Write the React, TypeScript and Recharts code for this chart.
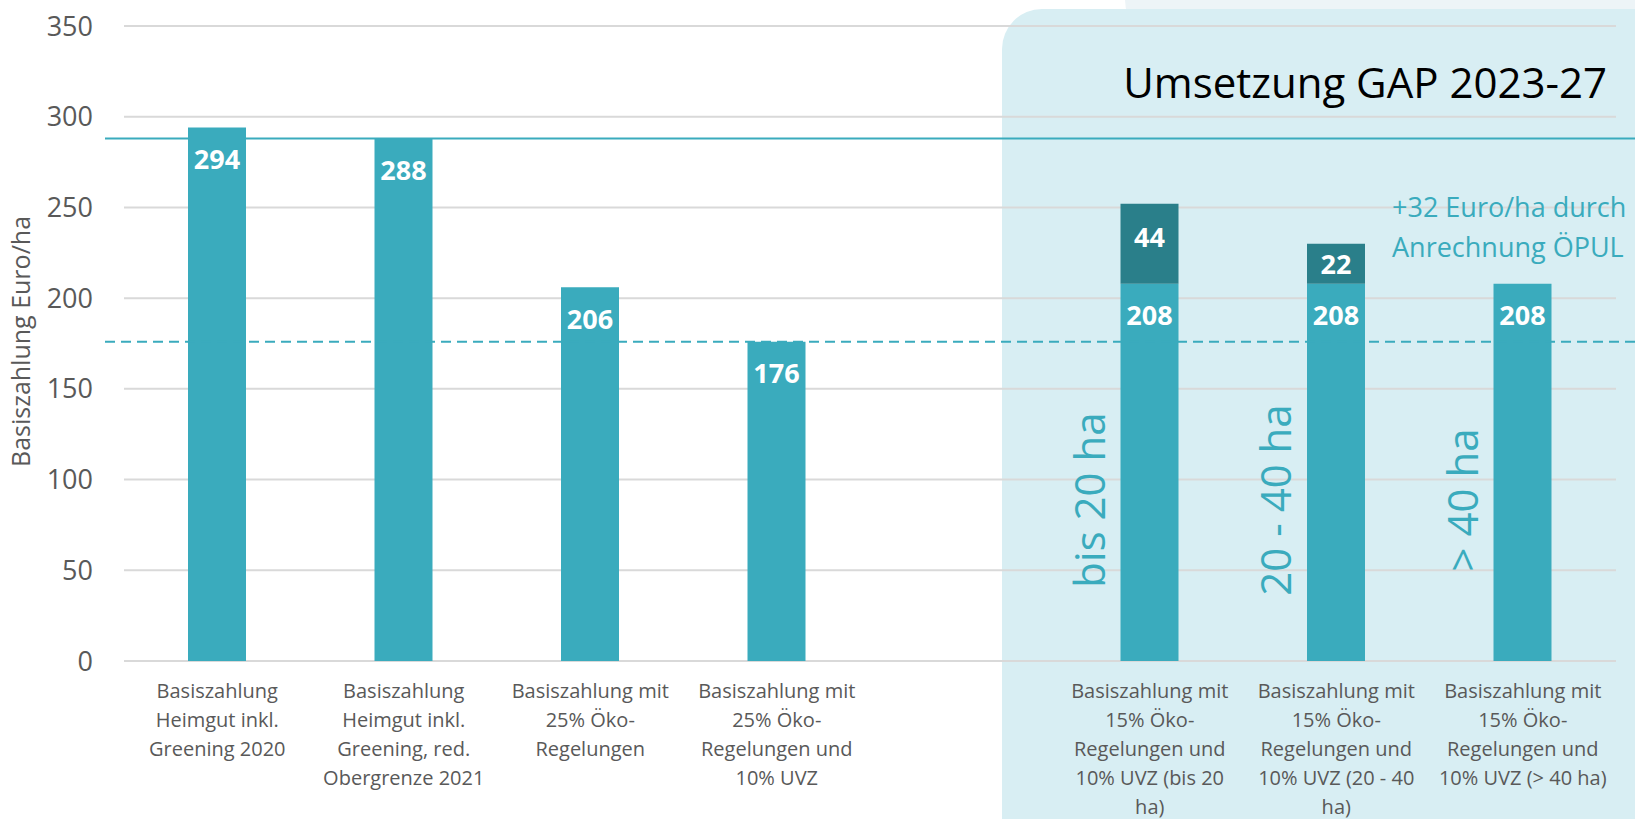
import {
  Bar,
  BarChart,
  CartesianGrid,
  Label,
  LabelList,
  ReferenceLine,
  XAxis,
  YAxis,
} from "recharts";

const KATEGORIEN = [
  "Basiszahlung\nHeimgut inkl.\nGreening 2020",
  "Basiszahlung\nHeimgut inkl.\nGreening, red.\nObergrenze 2021",
  "Basiszahlung mit\n25% Öko-\nRegelungen",
  "Basiszahlung mit\n25% Öko-\nRegelungen und\n10% UVZ",
  "",
  "Basiszahlung mit\n15% Öko-\nRegelungen und\n10% UVZ (bis 20\nha)",
  "Basiszahlung mit\n15% Öko-\nRegelungen und\n10% UVZ (20 - 40\nha)",
  "Basiszahlung mit\n15% Öko-\nRegelungen und\n10% UVZ (> 40 ha)",
];
const BASIS = [294, 288, 206, 176, null, 208, 208, 208];
const OEPUL = [null, null, null, null, null, 44, 22, null];
const GROESSE = ["", "", "", "", "", "bis 20 ha", "20 - 40 ha", "> 40 ha"];
const Y_TICKS = [0, 50, 100, 150, 200, 250, 300, 350];
const LINIE_OBERGRENZE = 288;
const LINIE_UVZ = 176;

const HELL = "#3aabbd";
const DUNKEL = "#2a7f8a";
const GRAU = "#595959";

const daten = KATEGORIEN.map((name, i) => ({
  name,
  basis: BASIS[i],
  oepul: OEPUL[i],
  groesse: GROESSE[i],
}));

function KategorieTick({ x, y, payload }: any) {
  const zeilen = String(payload?.value ?? "").split("\n").filter(Boolean);
  return (
    <g transform={`translate(${x},${y})`}>
      {zeilen.map((z, i) => (
        <text key={i} x={0} y={37 + i * 29} textAnchor="middle" fill={GRAU} fontSize={20}>
          {z}
        </text>
      ))}
    </g>
  );
}

const WertOben = (p: any) => {
  if (p.value == null) return null;
  return (
    <text
      x={p.x + p.width / 2}
      y={p.y + 31}
      textAnchor="middle"
      dominantBaseline="central"
      fill="#fff"
      fontSize={27}
      fontWeight={700}
    >
      {p.value}
    </text>
  );
};

const WertMitte = (p: any) => {
  if (p.value == null) return null;
  return (
    <text
      x={p.x + p.width / 2}
      y={p.y + Math.min(p.height / 2, 33)}
      textAnchor="middle"
      dominantBaseline="central"
      fill="#fff"
      fontSize={27}
      fontWeight={700}
    >
      {p.value}
    </text>
  );
};

const GroesseLabel = (p: any) => {
  if (!p.value) return null;
  const cx = p.x + p.width / 2 - 45;
  const cy = p.y + p.height - 161;
  return (
    <text
      transform={`translate(${cx},${cy}) rotate(-90)`}
      textAnchor="middle"
      fill={HELL}
      fontSize={42}
    >
      {p.value}
    </text>
  );
};

const langeLinie = (dash?: string) => (p: any) => (
  <line
    x1={p.x1 - 19}
    x2={p.x2 + 19}
    y1={p.y1}
    y2={p.y2}
    stroke={HELL}
    strokeWidth={2}
    strokeDasharray={dash}
  />
);

export default function App() {
  return (
    <div
      style={{
        position: "absolute",
        left: 0,
        top: 0,
        width: 1635,
        height: 819,
        overflow: "hidden",
        background: "#fff",
        fontFamily: "'Open Sans', sans-serif",
      }}
    >
      <svg width={1635} height={819} style={{ position: "absolute", left: 0, top: 0 }}>
        <rect x={1125} y={-200} width={700} height={240} rx={40} fill="#edf4f7" />
        <rect x={1002} y={9} width={800} height={900} rx={40} fill="#d8eef3" />
      </svg>
      <div style={{ position: "absolute", left: 0, top: 0 }}>
        <BarChart
          width={1635}
          height={819}
          data={daten}
          margin={{ top: 26, right: 19, bottom: 0, left: 0 }}
        >
          <CartesianGrid vertical={false} stroke="#d9d9d9" strokeWidth={2} />
          <XAxis
            dataKey="name"
            axisLine={false}
            tickLine={false}
            tickSize={0}
            tickMargin={0}
            height={158}
            interval={0}
            tick={<KategorieTick />}
          />
          <YAxis
            type="number"
            domain={[0, 350]}
            ticks={Y_TICKS}
            axisLine={false}
            tickLine={false}
            tickSize={0}
            tickMargin={31}
            width={124}
            tick={{ fill: GRAU, fontSize: 27 }}
          >
            <Label
              content={({ viewBox }: any) => (
                <text
                  transform={`translate(30,${viewBox.y + viewBox.height / 2 - 2}) rotate(-90)`}
                  textAnchor="middle"
                  fill={GRAU}
                  fontSize={25}
                >
                  Basiszahlung Euro/ha
                </text>
              )}
            />
          </YAxis>
          <Bar dataKey="basis" stackId="a" fill={HELL} barSize={58} isAnimationActive={false}>
            <LabelList dataKey="basis" content={WertOben} />
            <LabelList dataKey="groesse" content={GroesseLabel} />
          </Bar>
          <Bar dataKey="oepul" stackId="a" fill={DUNKEL} barSize={58} isAnimationActive={false}>
            <LabelList dataKey="oepul" content={WertMitte} />
          </Bar>
          <ReferenceLine y={LINIE_OBERGRENZE} shape={langeLinie()} />
          <ReferenceLine y={LINIE_UVZ} shape={langeLinie("10 6")} />
        </BarChart>
      </div>
      <svg
        width={1635}
        height={819}
        style={{ position: "absolute", left: 0, top: 0, pointerEvents: "none" }}
      >
        <text x={1607} y={98} textAnchor="end" fill="#000" fontSize={42}>
          Umsetzung GAP 2023-27
        </text>
        <text x={1392} y={217} fill={HELL} fontSize={27}>
          +32 Euro/ha durch
        </text>
        <text x={1392} y={257} fill={HELL} fontSize={27}>
          Anrechnung ÖPUL
        </text>
      </svg>
    </div>
  );
}
